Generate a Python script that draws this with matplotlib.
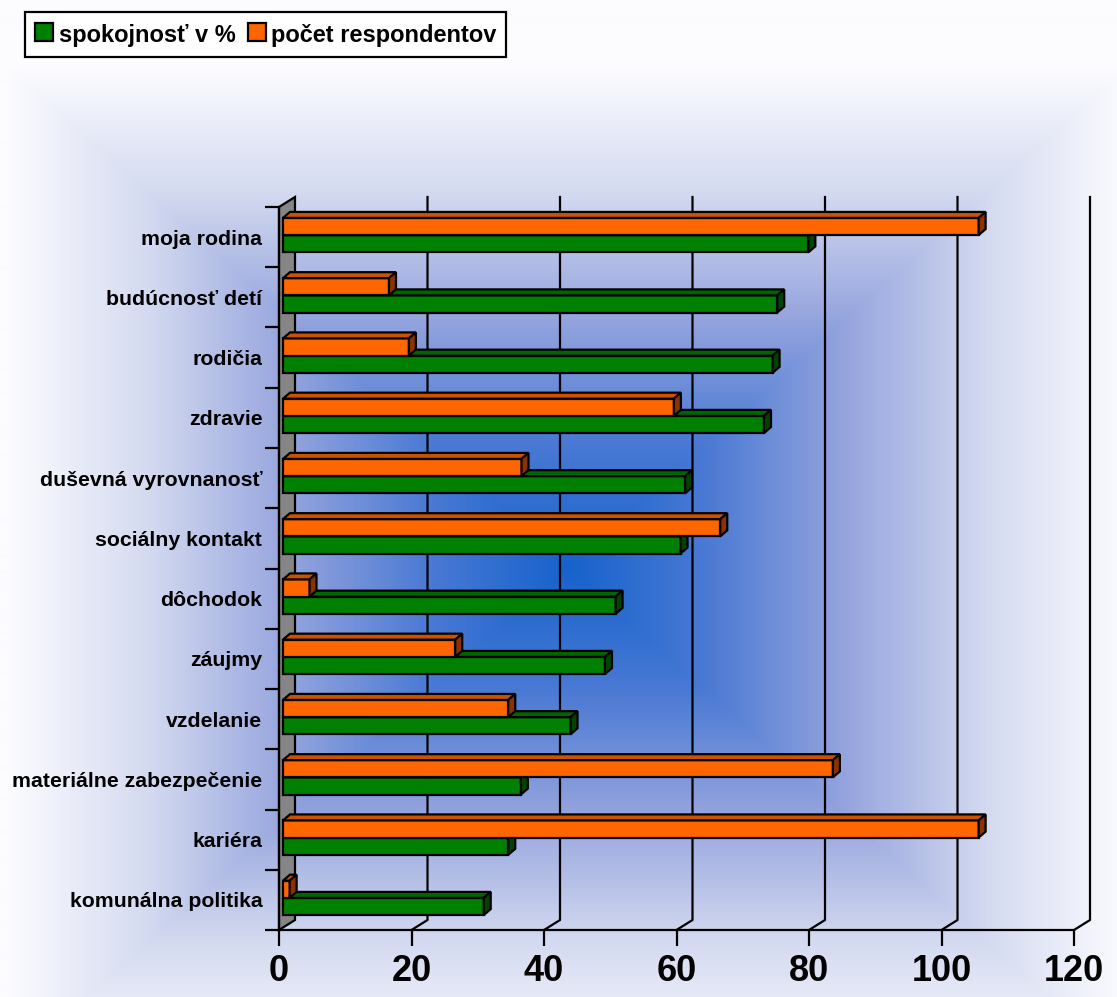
import numpy as np
import matplotlib
matplotlib.use("Agg")
import matplotlib.pyplot as plt
from matplotlib.patches import Polygon
from matplotlib.lines import Line2D
from matplotlib.colors import LinearSegmentedColormap
from matplotlib.transforms import ScaledTranslation, IdentityTransform

plt.rcParams['font.family'] = ['Liberation Sans', 'DejaVu Sans']

kategorie = ["moja rodina", "budúcnosť detí", "rodičia", "zdravie",
             "duševná vyrovnanosť", "sociálny kontakt", "dôchodok", "záujmy",
             "vzdelanie", "materiálne zabezpečenie", "kariéra", "komunálna politika"]
spokojnost = [79.3, 74.6, 73.9, 72.6, 60.7, 60.0, 50.2, 48.6, 43.4, 35.9, 34.0, 30.3]
respondenti = [105, 16, 19, 59, 36, 66, 4, 26, 34, 83, 105, 1]
x_ticky = [0, 20, 40, 60, 80, 100, 120]

W, H, DPI = 1117, 997, 100
fig = plt.figure(figsize=(W / DPI, H / DPI), dpi=DPI)

# pozadie - farebny prechod od stredu
bg = fig.add_axes([0, 0, 1, 1], zorder=0)
yy, xx = np.mgrid[0:H, 0:W]
t = np.maximum(np.abs(xx - 567) / 560, np.abs(yy - 567) / 500).clip(0, 1)
prechod = LinearSegmentedColormap.from_list("prechod", [
    (0.00, (22/255, 98/255, 204/255)),
    (0.25, (75/255, 122/255, 212/255)),
    (0.50, (150/255, 165/255, 222/255)),
    (0.75, (212/255, 218/255, 240/255)),
    (1.00, (252/255, 252/255, 255/255))])
bg.imshow(t, cmap=prechod, vmin=0, vmax=1, extent=(0, W, 0, H), origin="upper",
          aspect="auto", interpolation="bilinear")
bg.axis("off")

# hlavny graf (predna rovina)
ax = fig.add_axes([279 / W, (H - 930) / H, 795 / W, 723 / H], zorder=1)
ax.patch.set_visible(False)
n = len(kategorie)
y = np.arange(n)
ax.set_xlim(0, 120)
ax.set_ylim(n - 0.5, -0.5)

def posun(dx, dy):
    return ScaledTranslation(dx / DPI, dy / DPI, fig.dpi_scale_trans)

def bod(x, yv, dx=0, dy=0):
    px, py = ax.transData.transform((x, yv))
    return (px + dx, py + dy)

HL_X, HL_Y = 16, 10      # hlbka zadnej steny
BAR_DX, BAR_DY = 4, 2    # posun stlpca od prednej roviny
D_X, D_Y = 7, 6          # hlbka stlpca
LW = 1.6

# bocna stena
stena = Polygon([bod(0, -0.5), bod(0, -0.5, HL_X, HL_Y), bod(0, n - 0.5, HL_X, HL_Y), bod(0, n - 0.5)],
                closed=True, facecolor="#858585", edgecolor="black", lw=LW,
                transform=IdentityTransform(), clip_on=False, zorder=2)
ax.add_artist(stena)

# mriezka na zadnej stene a podlahe
for v in x_ticky[1:]:
    pts = [bod(v, n - 0.5), bod(v, n - 0.5, HL_X, HL_Y), bod(v, -0.5, HL_X, HL_Y)]
    xs, ys = zip(*pts)
    ax.add_line(Line2D(xs, ys, color="black", lw=LW, transform=IdentityTransform(),
                       clip_on=False, zorder=1.5))

h = 0.285

def stlpce(hodnoty, stred, c_pred, c_vrch, c_bok):
    bars = ax.barh(stred, hodnoty, height=h, left=0, color=c_pred, edgecolor="black",
                   lw=LW, zorder=3)
    for b in bars:
        b.set_transform(ax.transData + posun(BAR_DX, BAR_DY))
        b.set_clip_on(False)
    for yc, v in zip(stred, hodnoty):
        top, bot = yc - h / 2, yc + h / 2
        a = bod(0, top, BAR_DX, BAR_DY)
        b_ = bod(v, top, BAR_DX, BAR_DY)
        e = bod(v, bot, BAR_DX, BAR_DY)
        vrch = Polygon([a, b_, (b_[0] + D_X, b_[1] + D_Y), (a[0] + D_X, a[1] + D_Y)],
                       facecolor=c_vrch, edgecolor="black", lw=LW,
                       transform=IdentityTransform(), clip_on=False, zorder=3)
        bok = Polygon([b_, e, (e[0] + D_X, e[1] + D_Y), (b_[0] + D_X, b_[1] + D_Y)],
                      facecolor=c_bok, edgecolor="black", lw=LW,
                      transform=IdentityTransform(), clip_on=False, zorder=3)
        ax.add_artist(vrch)
        ax.add_artist(bok)
    return bars

# zelene pod oranzovymi
for i in range(n):
    stlpce([spokojnost[i]], [y[i] + 0.143], "#008000", "#006600", "#004400")
    stlpce([respondenti[i]], [y[i] - 0.143], "#ff6600", "#cc5200", "#8a3300")

# osi
for s in ["top", "right"]:
    ax.spines[s].set_visible(False)
ax.spines["left"].set_linewidth(LW)
ax.spines["bottom"].set_linewidth(LW)
ax.spines["left"].set_zorder(2.5)
ax.set_xticks(x_ticky)
ax.set_xticklabels([str(v) for v in x_ticky], fontsize=26, fontweight="bold")
ax.tick_params(axis="x", length=11.5, width=LW, direction="out", pad=6)
ax.set_yticks(y)
ax.set_yticklabels(kategorie, fontsize=15.3, fontweight="bold")
ax.tick_params(axis="y", which="major", length=0, pad=12)
ax.set_yticks(np.arange(n + 1) - 0.5, minor=True)
ax.tick_params(axis="y", which="minor", length=10, width=LW, direction="out")

# legenda
zel = Line2D([], [], ls="none", marker="s", markersize=13.5, markerfacecolor="#008000",
             markeredgecolor="black", markeredgewidth=LW)
ora = Line2D([], [], ls="none", marker="s", markersize=13.5, markerfacecolor="#ff6600",
             markeredgecolor="black", markeredgewidth=LW)
leg = fig.legend([zel, ora], ["spokojnosť v %", "počet respondentov"], loc="upper left",
                 bbox_to_anchor=(25 / W, 1 - 12 / H), ncol=2,
                 prop={"size": 17, "weight": "bold"},
                 frameon=True, fancybox=False,
                 framealpha=1, facecolor="white", edgecolor="black",
                 handlelength=0.85, handleheight=1.3, handletextpad=0.2,
                 columnspacing=0.45, borderpad=0.4, borderaxespad=0)
leg.get_frame().set_linewidth(LW)

fig.savefig("out.png", dpi=DPI)
